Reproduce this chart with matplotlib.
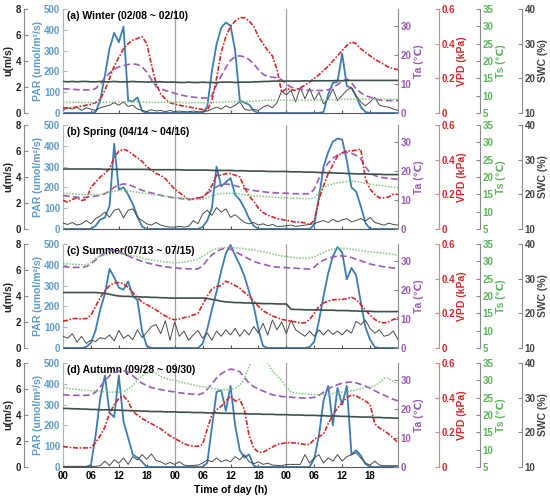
import numpy as np
import matplotlib.pyplot as plt

plt.rcParams['font.family'] = ['Liberation Sans', 'DejaVu Sans']
plt.rcParams['font.weight'] = 'bold'
plt.rcParams['axes.labelweight'] = 'bold'

# hourly readings, 3 days (0..72 h)
hours = np.arange(73)
xtick_pos = [0, 6, 12, 18, 24, 30, 36, 42, 48, 54, 60, 66]
xtick_lab = ['00', '06', '12', '18'] * 3

titles = ['(a) Winter (02/08 ~ 02/10)', '(b) Spring (04/14 ~ 04/16)',
          '(c) Summer(07/13 ~ 07/15)', '(d) Autumn (09/28 ~ 09/30)']

# ---- winter ----
par_w = [0,0,0,0,0,0,0,5,60,180,310,385,340,415,60,55,75,10,0,0,0,0,0,0,
         0,0,0,0,0,0,0,30,200,330,410,435,420,300,60,50,40,10,0,0,0,0,0,0,
         0,0,0,0,0,0,0,0,5,90,145,150,285,130,120,80,30,5,0,0,0,0,0,0,0]
vpd_w = [0.03,0.03,0.03,0.035,0.04,0.045,0.05,0.06,0.08,0.13,0.2,0.27,0.32,0.37,0.4,0.42,0.43,0.44,0.4,0.28,0.17,0.11,0.08,0.06,
         0.05,0.045,0.04,0.035,0.03,0.025,0.02,0.015,0.07,0.2,0.35,0.44,0.5,0.53,0.55,0.55,0.53,0.5,0.44,0.4,0.36,0.33,0.25,0.12,
         0.14,0.135,0.13,0.145,0.16,0.18,0.2,0.22,0.245,0.27,0.3,0.33,0.36,0.39,0.41,0.4,0.37,0.35,0.33,0.31,0.295,0.28,0.265,0.255,0.25]
ta_w = [8.4,8.3,8.2,8.1,8.0,8.0,8.0,8.4,10,12.2,13.8,15.2,16,16.4,16.8,17,16.8,16,14.2,11.6,9.2,8.3,7.8,7.4,
        6.8,6.4,6.0,5.7,5.5,5.3,5.2,5.2,6.0,9.8,12.8,15.8,18.2,19.5,19.8,19.4,18.5,17,15,13.4,12.6,12.4,12.2,11.5,
        10,9,8.5,8.3,8,7.8,7.8,7.8,7.8,8,9,9.8,11,11.8,10.5,8.3,7,6,5.5,5,4.5,4.3,4.3,4.3,4.3]
ts_w = [8.1,8.1,8.1,8.1,8.0,8.0,8.0,8.0,8.0,8.1,8.1,8.2,8.2,8.2,8.2,8.2,8.2,8.2,8.1,8.1,8.1,8.1,8.1,8.1,
        8.1,8.1,8.0,8.0,8.0,8.0,8.0,8.0,8.0,8.1,8.1,8.2,8.2,8.3,8.3,8.3,8.3,8.4,8.5,8.6,8.7,8.7,8.7,8.7,
        8.7,8.7,8.7,8.7,8.7,8.7,8.7,8.7,8.7,8.8,8.8,8.9,8.9,9.0,9.0,9.0,9.0,9.0,9.0,9.0,9.0,9.0,9.0,9.0,9.0]
swc_w = [19.1,19.0,19.1,19.0,19.1,19.1,19.0,19.0,19.1,19.0,19.0,19.1,19.0,19.0,19.0,19.1,19.0,19.0,18.9,19.0,18.9,19.0,18.9,18.9,
         18.9,18.8,18.8,18.9,18.8,18.8,18.9,18.8,18.8,18.8,18.9,18.9,18.9,18.8,18.9,18.9,18.9,19.0,19.0,19.1,19.1,19.2,19.2,19.2,
         19.2,19.2,19.2,19.2,19.3,19.2,19.3,19.3,19.3,19.3,19.3,19.4,19.3,19.4,19.4,19.4,19.4,19.4,19.4,19.4,19.4,19.4,19.4,19.4,19.4]
u_w = [0.2,0.4,0.3,0.45,0.2,0.4,0.3,0.2,0.4,0.5,0.6,0.8,0.6,0.85,0.5,0.6,0.3,0.2,0.1,0.25,0.15,0.2,0.1,0.2,
       0.1,0.15,0.1,0.1,0.15,0.1,0.1,0.15,0.3,0.45,0.3,0.55,0.4,0.6,0.85,0.3,0.2,0.3,0.2,0.45,0.6,0.4,0.8,1.7,
       1.4,1.75,0.85,1.95,1.1,1.9,1.0,1.6,0.7,1.1,1.85,0.95,1.35,1.75,1.95,1.35,0.85,0.55,0.85,1.2,0.6,0.5,0.45,0.3,0.2]

# ---- spring ----
par_s = [0,0,0,0,0,0,0,15,45,55,110,410,190,200,165,120,60,12,0,0,0,0,0,0,
         0,0,0,0,0,0,10,40,100,300,205,225,245,165,140,100,50,15,0,0,0,0,0,0,
         0,0,0,0,0,0,20,150,300,370,420,435,430,330,200,180,110,30,0,0,0,0,0,0,0]
vpd_s = [0.165,0.155,0.17,0.18,0.165,0.17,0.24,0.27,0.3,0.32,0.35,0.41,0.45,0.46,0.45,0.43,0.41,0.39,0.36,0.34,0.32,0.31,0.29,0.26,
         0.23,0.21,0.19,0.17,0.175,0.18,0.18,0.21,0.25,0.31,0.31,0.32,0.32,0.31,0.3,0.24,0.19,0.16,0.12,0.095,0.08,0.07,0.06,0.055,
         0.05,0.045,0.04,0.04,0.035,0.025,0.05,0.17,0.25,0.32,0.37,0.42,0.44,0.45,0.45,0.455,0.46,0.29,0.23,0.2,0.18,0.18,0.185,0.2,0.2]
ta_s = [11.6,11.4,11.2,11.0,10.8,11.0,11.2,11.4,11.6,12.2,13.2,14.4,15.2,15.6,15.4,14.8,14.0,13.4,12.9,12.5,12.1,11.7,11.3,11.0,
        10.8,10.6,10.4,10.2,10.3,10.5,11.2,12.3,13.5,14.6,15.4,15.6,15.4,15.0,14.5,14.0,13.6,13.3,13.1,12.9,12.7,12.6,12.5,12.4,
        12.4,12.3,12.2,12.2,12.2,12.2,13.8,17.5,20.5,22.8,24.5,25.6,26.3,26.5,26.2,25.5,24.3,21.5,19.5,18.5,18.0,17.7,17.5,17.3,17.2]
ts_s = [15.3,15.2,15.1,15.0,14.9,14.9,14.9,14.9,15.0,15.3,15.6,15.9,16.1,16.1,16.0,15.8,15.6,15.4,15.2,15.0,14.8,14.6,14.5,14.3,
        14.1,14.0,13.8,13.7,13.5,13.5,13.6,14.0,14.6,15.0,15.2,15.3,15.3,15.2,15.1,14.9,14.7,14.6,14.5,14.4,14.3,14.2,14.1,14.0,
        14.0,13.9,13.9,13.8,13.8,13.7,14.0,15.5,17.0,17.6,18.0,18.3,18.5,18.7,18.8,18.7,18.5,18.2,18.0,17.8,17.6,17.4,17.2,17.1,17.0]
swc_s = [27.3,27.3,27.3,27.3,27.3,27.3,27.3,27.3,27.3,27.2,27.2,27.2,27.2,27.2,27.2,27.2,27.2,27.2,27.2,27.1,27.1,27.1,27.1,27.1,
         27.1,27.1,27.0,27.0,27.0,27.0,27.0,27.0,26.9,26.9,26.9,26.9,26.9,26.8,26.8,26.8,26.7,26.7,26.7,26.7,26.6,26.6,26.6,26.6,
         26.6,26.5,26.5,26.5,26.4,26.4,26.4,26.3,26.3,26.2,26.2,26.1,26.1,26.0,26.0,25.9,25.9,25.9,25.8,25.8,25.8,25.7,25.7,25.7,25.7]
u_s = [0.45,0.35,0.5,0.3,0.4,0.65,0.4,0.8,1.0,1.3,0.9,1.45,1.55,0.85,1.45,1.55,0.9,0.65,0.4,0.3,0.5,0.3,0.2,0.15,
       0.15,0.2,0.15,0.2,0.65,0.4,1.15,1.45,1.05,1.65,1.3,1.55,0.9,1.1,0.8,0.5,0.4,0.5,0.3,0.4,0.25,0.35,0.2,0.2,
       0.25,0.3,0.2,0.25,0.3,0.35,0.4,0.55,0.65,0.5,0.75,0.55,0.7,0.8,0.55,0.65,0.8,0.6,0.9,0.5,0.4,0.3,0.45,0.35,0.3]

# ---- summer ----
par_m = [0,0,0,0,0,5,25,85,185,260,380,340,290,280,320,250,230,80,10,0,0,0,0,0,
         0,0,0,0,0,0,20,90,185,270,370,455,495,445,400,345,270,200,90,10,0,0,0,0,
         0,0,0,0,0,5,30,130,250,360,440,485,460,330,385,350,220,100,40,5,0,0,0,0,0]
vpd_m = [0.155,0.16,0.17,0.17,0.168,0.17,0.19,0.24,0.29,0.33,0.36,0.375,0.378,0.37,0.35,0.32,0.29,0.265,0.25,0.235,0.22,0.2,0.185,0.17,
         0.163,0.168,0.175,0.18,0.19,0.2,0.25,0.3,0.34,0.355,0.36,0.385,0.375,0.36,0.345,0.32,0.3,0.27,0.24,0.215,0.2,0.185,0.175,0.165,
         0.16,0.155,0.15,0.145,0.145,0.165,0.2,0.24,0.26,0.27,0.278,0.28,0.28,0.285,0.293,0.28,0.25,0.22,0.19,0.165,0.15,0.145,0.15,0.165,0.175]
ta_m = [28.2,28.0,27.9,27.9,27.9,28.2,29.2,30.5,31.8,32.8,33.6,33.8,33.4,32.6,31.9,31.2,30.6,30.0,29.5,29.1,28.7,28.4,28.1,27.9,
        27.8,27.6,27.5,27.4,27.3,27.4,28.4,30.5,32.2,33.4,34.2,34.5,34.2,33.4,32.5,31.6,30.8,30.0,29.4,29.0,28.6,28.2,28.0,27.9,
        27.8,27.7,27.6,27.5,27.4,27.3,28.0,29.5,30.4,31.0,31.5,31.8,31.9,31.7,31.3,30.7,30.2,29.6,29.1,28.7,28.4,28.1,27.9,27.7,27.6]
ts_m = [29.4,29.3,29.2,29.1,29.0,29.0,29.6,30.9,31.5,31.8,32.0,32.2,32.3,32.0,31.9,31.6,31.4,31.0,30.6,30.4,30.2,30.0,29.8,29.7,
        29.6,29.6,29.8,30.0,30.3,30.6,31.5,32.3,33.2,33.6,33.9,34.0,34.0,33.9,33.8,33.6,33.4,33.3,33.0,32.8,32.5,32.1,31.9,31.6,
        31.4,31.2,31.0,30.9,30.9,30.9,31.3,31.9,32.6,33.1,33.5,33.7,33.8,33.7,33.5,33.3,33.1,32.9,32.8,32.6,32.5,32.3,32.2,32.0,31.8]
swc_m = [26.0,26.0,26.0,26.0,26.0,26.0,26.0,26.0,25.9,25.8,25.5,25.2,25.0,24.9,24.9,24.8,24.8,24.7,24.7,24.6,24.6,24.5,24.5,24.4,
         24.4,24.4,24.4,24.4,24.4,24.4,24.4,24.3,24.0,23.8,23.5,23.3,23.2,23.1,23.1,23.0,23.0,22.9,22.9,22.8,22.8,22.8,22.7,22.7,
         22.7,21.2,21.1,21.1,21.0,21.0,21.0,21.0,20.9,20.9,20.9,20.8,20.8,20.8,20.7,20.7,20.6,20.6,20.6,20.5,20.5,20.5,20.5,20.5,20.5]
u_m = [0.9,0.75,1.1,0.45,0.9,0.35,0.6,0.5,0.8,0.7,1.0,0.55,1.35,0.75,1.0,0.65,1.4,0.8,1.2,1.65,1.8,1.1,2.1,0.6,
       2.0,0.9,1.3,0.6,1.0,1.35,0.75,1.15,0.6,1.3,0.9,1.4,1.0,1.5,0.9,1.4,1.0,1.65,1.15,1.9,1.0,2.15,1.4,2.0,
       1.1,2.15,1.4,1.15,0.9,1.3,0.9,1.4,1.0,1.4,1.05,1.3,1.0,1.4,1.15,2.05,1.8,2.15,1.5,1.15,1.4,0.9,1.0,1.3,0.65]

# ---- autumn ----
par_f = [0,0,0,0,0,0,10,150,330,440,260,240,440,220,140,60,45,25,0,0,0,0,0,0,
         0,0,0,0,0,0,0,20,190,360,370,270,390,200,80,45,60,5,0,0,0,0,0,0,
         0,0,0,0,0,0,40,150,320,390,200,380,300,390,60,80,55,15,0,0,0,0,0,0,0]
vpd_f = [0.118,0.115,0.112,0.11,0.11,0.11,0.112,0.14,0.18,0.23,0.31,0.36,0.395,0.41,0.38,0.32,0.3,0.28,0.265,0.25,0.235,0.22,0.2,0.18,
         0.165,0.15,0.135,0.125,0.12,0.12,0.13,0.22,0.3,0.33,0.35,0.38,0.41,0.38,0.39,0.33,0.18,0.11,0.085,0.085,0.1,0.115,0.13,0.135,
         0.14,0.14,0.138,0.135,0.13,0.13,0.16,0.175,0.19,0.25,0.3,0.34,0.37,0.4,0.415,0.41,0.395,0.38,0.36,0.25,0.225,0.21,0.19,0.167,0.14]
ta_f = [25.0,24.9,24.8,24.8,24.8,24.8,25.0,25.9,27.8,29.9,31.6,32.7,33.2,33.3,32.8,31.6,30.2,29.0,28.2,27.5,27.1,26.8,26.5,26.2,
        26.0,25.7,25.5,25.3,25.2,25.0,25.5,26.8,28.8,30.8,32.3,33.2,33.9,33.6,33.0,31.0,29.0,27.8,27.0,26.3,25.6,25.0,24.7,24.4,
        24.3,24.2,24.0,23.9,23.9,23.9,24.1,24.8,25.9,27.1,27.9,28.5,29.0,29.3,29.4,29.1,28.6,28.0,27.3,26.4,25.6,24.9,24.1,23.4,22.9]
ts_f = [27.8,27.7,27.5,27.4,27.2,27.1,27.0,26.9,26.8,26.7,26.6,26.6,26.6,26.8,27.5,28.5,30.0,31.3,32.2,32.8,32.0,31.1,30.6,30.2,
        30.0,29.6,29.3,29.0,28.7,28.4,28.2,27.9,27.7,27.4,27.3,27.3,27.3,27.7,28.6,30.5,34.0,37.0,37.5,36.5,35.0,32.6,31.3,30.0,
        28.0,26.7,26.3,26.2,26.1,26.0,25.9,25.9,25.9,26.0,26.2,26.4,26.6,26.8,27.0,27.3,27.6,27.9,28.2,28.4,29.3,30.6,30.6,29.6,29.0]
swc_f = [26.9,26.9,26.8,26.8,26.7,26.7,26.6,26.6,26.5,26.5,26.5,26.4,26.4,26.3,26.3,26.2,26.2,26.1,26.1,26.0,26.0,26.0,25.9,25.9,
         25.9,25.8,25.8,25.8,25.7,25.7,25.7,25.6,25.6,25.6,25.5,25.5,25.5,25.4,25.4,25.4,25.3,25.3,25.3,25.2,25.2,25.2,25.1,25.1,
         25.1,25.0,25.0,25.0,24.9,24.9,24.9,24.8,24.8,24.7,24.7,24.7,24.6,24.6,24.5,24.5,24.4,24.4,24.4,24.3,24.3,24.2,24.2,24.1,24.1]
u_f = [0.05,0.05,0.05,0.05,0.05,0.05,0.05,0.05,0.1,0.45,0.1,0.55,0.3,0.7,0.2,0.8,0.55,0.95,0.6,1.0,0.5,0.4,0.2,0.35,
       0.2,0.4,0.15,0.1,0.12,0.15,0.3,0.55,0.4,0.7,0.4,0.55,0.4,0.8,0.55,0.95,0.4,0.25,0.4,0.2,0.3,0.15,0.12,0.1,
       0.2,0.2,0.2,0.2,0.95,0.3,0.7,0.95,0.3,0.7,0.45,0.95,0.45,0.8,0.95,1.1,0.7,0.3,0.15,0.45,0.15,0.1,0.1,0.1,0.1]

# colours
c_par, c_par_lab = '#3b7db0', '#5e9cc8'
c_vpd = '#d02a2a'
c_ta = '#9c5bb5'
c_ts, c_ts_lab = '#82c87a', '#5cb55a'
c_swc = '#3e4f4a'
c_u = '#4a4a4a'
c_spine = '#8a8a8a'

fig = plt.figure(figsize=(5.5, 4.97), dpi=100)
W, H = 550, 497
panel_tops = [9, 125, 244, 363]
panel_h = 104

seasons = [(par_w, vpd_w, ta_w, ts_w, swc_w, u_w),
           (par_s, vpd_s, ta_s, ts_s, swc_s, u_s),
           (par_m, vpd_m, ta_m, ts_m, swc_m, u_m),
           (par_f, vpd_f, ta_f, ts_f, swc_f, u_f)]


def style_y(a, tickcol, labcol):
    a.tick_params(axis='y', direction='in', length=3, width=0.8, color=tickcol,
                  labelcolor=labcol, labelsize=7, pad=2)


for i, (par, vpd, ta, ts, swc, u) in enumerate(seasons):
    rect = [63 / W, 1 - (panel_tops[i] + panel_h) / H, 335 / W, panel_h / H]
    ax = fig.add_axes(rect)
    ax_u = ax.twinx()
    ax_ta = ax.twinx()
    ax_vpd = ax.twinx()
    ax_ts = ax.twinx()
    ax_swc = ax.twinx()
    twins = [ax_u, ax_ta, ax_vpd, ax_ts, ax_swc]

    ax.spines['top'].set_visible(False)
    ax.spines['right'].set_visible(False)
    ax.spines['left'].set_color('#9fb8cc')
    ax.spines['bottom'].set_color('#555555')
    for a in twins:
        a.spines['top'].set_visible(False)
        a.spines['bottom'].set_visible(False)
        a.spines['left'].set_visible(False)
        a.spines['right'].set_color(c_spine)

    # u axis moved to the far left
    ax_u.yaxis.tick_left()
    ax_u.yaxis.set_label_position('left')
    ax_u.spines['right'].set_visible(False)
    ax_u.spines['left'].set_visible(True)
    ax_u.spines['left'].set_color(c_spine)
    ax_u.spines['left'].set_position(('outward', 28))
    ax_vpd.spines['right'].set_position(('outward', 29.5))
    ax_vpd.spines['right'].set_color('#c98b8b')
    ax_ts.spines['right'].set_position(('outward', 59))
    ax_swc.spines['right'].set_position(('outward', 89))

    for d in (24, 48):
        ax.axvline(d, color='#a0a0a0', lw=0.9, zorder=0)

    ax.plot(hours, par, color=c_par, lw=1.3)
    ax_u.plot(hours, u, color=c_u, lw=0.7)
    ax_ta.plot(hours, ta, color=c_ta, lw=1.2, ls=(0, (4, 2)))
    ax_vpd.plot(hours, vpd, color=c_vpd, lw=1.2, ls=(0, (3, 1, 1, 1)))
    ax_ts.plot(hours, ts, color=c_ts, lw=1.1, ls=(0, (1, 1)))
    ax_swc.plot(hours, swc, color=c_swc, lw=1.2)

    ax.set_xlim(0, 72)
    ax.set_ylim(0, 500)
    ax.set_yticks([0, 100, 200, 300, 400, 500])
    ax_u.set_ylim(0, 8)
    ax_u.set_yticks([0, 2, 4, 6, 8])
    ax_ta.set_ylim(0, 36)
    ax_ta.set_yticks([0, 10, 20, 30])
    ax_vpd.set_ylim(0, 0.6)
    ax_vpd.set_yticks([0, 0.2, 0.4, 0.6])
    ax_vpd.set_yticklabels(['0', '0.2', '0.4', '0.6'])
    ax_ts.set_ylim(5, 35)
    ax_ts.set_yticks([5, 10, 15, 20, 25, 30, 35])
    ax_swc.set_ylim(10, 40)
    ax_swc.set_yticks([10, 20, 30, 40])

    style_y(ax, '#9fb8cc', c_par_lab)
    style_y(ax_u, c_spine, '#222222')
    style_y(ax_ta, c_spine, c_ta)
    style_y(ax_vpd, '#c98b8b', c_vpd)
    style_y(ax_ts, c_spine, c_ts_lab)
    style_y(ax_swc, c_spine, '#444444')

    ax.set_ylabel('PAR (umol/m²/s)', color=c_par_lab, fontsize=7.5, labelpad=1)
    ax_u.set_ylabel('u(m/s)', color='#222222', fontsize=7.5, labelpad=2)
    ax_ta.set_ylabel('Ta (℃)', color=c_ta, fontsize=7.5, labelpad=2)
    ax_vpd.set_ylabel('VPD (kPa)', color=c_vpd, fontsize=7.5, labelpad=1)
    ax_ts.set_ylabel('Ts (℃)', color=c_ts_lab, fontsize=7.5, labelpad=2)
    ax_swc.set_ylabel('SWC (%)', color='#444444', fontsize=7.5, labelpad=2)

    ax.set_xticks(xtick_pos)
    ax.tick_params(axis='x', direction='in', length=2, width=0.8, color='#555555',
                   labelsize=7, pad=3)
    if i == 3:
        ax.set_xticklabels(xtick_lab)
        ax.set_xlabel('Time of day (h)', fontsize=7.5, labelpad=3)
    else:
        ax.set_xticklabels([])

    ax.text(0.012, 0.985, titles[i], transform=ax.transAxes, fontsize=7.5,
            fontweight='bold', va='top', ha='left')

fig.savefig('out.png', dpi=100)
